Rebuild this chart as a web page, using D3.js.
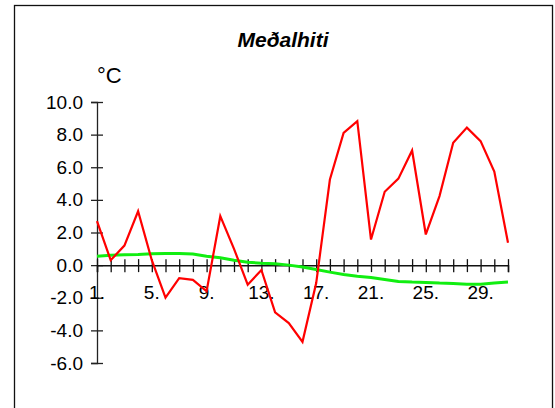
<!DOCTYPE html>
<html>
<head>
<meta charset="utf-8">
<script src="https://cdn.jsdelivr.net/npm/d3@7"></script>
<style>
  body { margin: 0; background: #fff; }
  text { font-family: "Liberation Sans", Arial, sans-serif; fill: #000; }
</style>
</head>
<body>
<div id="chart"></div>
<script>
// days of the month
var days = d3.range(1, 32);
// daily mean temperature (red)
var dailyMean = [2.7, 0.3, 1.2, 3.3, 0.3, -2.0, -0.8, -0.9, -1.6, 3.0,
                 1.0, -1.2, -0.3, -2.9, -3.55, -4.7, -1.1, 5.25, 8.1, 8.83,
                 1.57, 4.5, 5.3, 7.03, 1.88, 4.23, 7.5, 8.43, 7.6, 5.73, 1.37];
// long-term normal (green)
var normal = [0.55, 0.6, 0.63, 0.65, 0.7, 0.72, 0.72, 0.68, 0.55, 0.45,
              0.3, 0.18, 0.12, 0.08, 0.0, -0.12, -0.27, -0.43, -0.57, -0.68,
              -0.76, -0.88, -1.0, -1.04, -1.06, -1.1, -1.12, -1.17, -1.17, -1.1, -1.04];
var yTicks = [-6, -4, -2, 0, 2, 4, 6, 8, 10];
var xLabelDays = [1, 5, 9, 13, 17, 21, 25, 29];

var width = 555, height = 408;

var svg = d3.select("#chart")
    .append("svg")
    .attr("width", width)
    .attr("height", height);

// outer frame
svg.append("rect")
    .attr("x", 14.5).attr("y", 5.5)
    .attr("width", 538).attr("height", 420)
    .attr("fill", "none")
    .attr("stroke", "#111")
    .attr("stroke-width", 1.3);

var x = d3.scaleLinear().domain([1, 31]).range([97, 508]);
var y = d3.scaleLinear().domain([-6, 10]).range([363, 102]);

// title + unit
svg.append("text")
    .attr("x", 283).attr("y", 47)
    .attr("text-anchor", "middle")
    .style("font-size", "21px")
    .style("font-weight", "bold")
    .style("font-style", "italic")
    .text("Meðalhiti");

svg.append("text")
    .attr("x", 97).attr("y", 83)
    .style("font-size", "22px")
    .text("°C");

// Y axis
var yAxis = svg.append("g")
    .attr("transform", "translate(" + x(1) + ",0)")
    .call(d3.axisLeft(y).tickValues(yTicks).tickSize(6)
        .tickFormat(function(d) { return d.toFixed(1); }));
yAxis.select(".domain").attr("stroke", "#222").attr("stroke-width", 1.3);
yAxis.selectAll(".tick line").attr("x2", 6).attr("x1", -6).attr("stroke", "#222").attr("stroke-width", 1.3);
yAxis.selectAll(".tick text")
    .attr("x", -14)
    .style("font-size", "19px")
    .style("font-family", "Liberation Sans, Arial, sans-serif")
    .attr("fill", "#111");

// X axis at zero
var xAxis = svg.append("g")
    .attr("transform", "translate(0," + y(0) + ")")
    .call(d3.axisBottom(x).tickValues(days).tickSize(7).tickFormat(""));
xAxis.select(".domain").attr("stroke", "#111").attr("stroke-width", 1.5);
xAxis.selectAll(".tick line").attr("y1", -6).attr("stroke", "#111").attr("stroke-width", 1.3);

svg.append("g").selectAll("text")
    .data(xLabelDays)
    .enter()
    .append("text")
    .attr("x", function(d) { return x(d); })
    .attr("y", 299)
    .attr("text-anchor", "middle")
    .style("font-size", "19px")
    .text(function(d) { return d + "."; });

// lines
var line = function(vals) {
    return d3.line()
        .x(function(d, i) { return x(days[i]); })
        .y(function(d) { return y(d); })(vals);
};

svg.append("path")
    .attr("d", line(normal))
    .attr("fill", "none")
    .attr("stroke", "#11ee11")
    .attr("stroke-width", 3);

svg.append("path")
    .attr("d", line(dailyMean))
    .attr("fill", "none")
    .attr("stroke", "#ff0000")
    .attr("stroke-width", 2.2)
    .attr("stroke-linejoin", "miter");
</script>
</body>
</html>
